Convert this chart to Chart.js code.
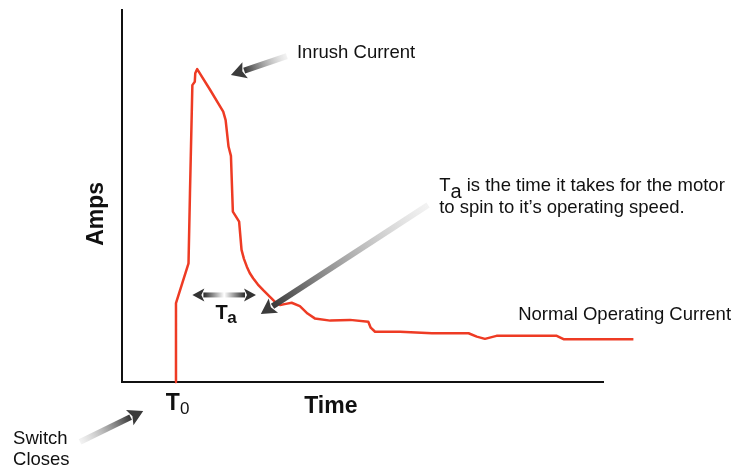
<!DOCTYPE html>
<html>
<head>
<meta charset="utf-8">
<script src="https://cdn.jsdelivr.net/npm/chart.js@4.4.0/dist/chart.umd.min.js"></script>
<style>
  html, body { margin: 0; padding: 0; background: #fff; }
  #wrap { width: 749px; height: 467px; position: relative; }
</style>
</head>
<body>
<div id="wrap"><canvas id="motor"></canvas></div>
<script>
// time (arbitrary units, axis runs 0..100) and current (0..100)
const timeVals = [11.0, 11.2, 13.8, 14.1, 14.6, 15.1, 15.2, 15.6, 18.3, 21.0, 21.5, 22.1, 22.6, 23.0,
  24.3, 24.8, 25.3, 25.9, 26.5, 27.2, 28.2, 29.3, 30.7, 31.8, 32.8, 34.0, 35.2, 36.9, 38.5, 40.0, 43.2,
  47.3, 51.1, 51.6, 52.5, 57.7, 64.3, 71.9, 73.6, 75.3, 77.7, 90.2, 91.6, 106.1];
const ampsVals = [0, 21.2, 31.9, 50.7, 79.8, 80.7, 83.0, 84.1, 78.5, 72.7, 70.4, 63.3, 60.8, 45.8,
  43.1, 35.5, 33.1, 31.0, 29.3, 27.9, 26.2, 24.7, 22.9, 21.5, 20.7, 21.0, 21.3, 20.4, 18.4, 17.1, 16.5,
  16.7, 16.2, 14.6, 13.5, 13.5, 13.1, 13.1, 12.2, 11.6, 12.4, 12.4, 11.5, 11.5];

const points = timeVals.map((t, i) => ({ x: t, y: ampsVals[i] }));

function drawArrow(ctx, x1, y1, x2, y2, o) {
  const ang = Math.atan2(y2 - y1, x2 - x1);
  const bx = x2 - Math.cos(ang) * o.head;
  const by = y2 - Math.sin(ang) * o.head;
  const g = ctx.createLinearGradient(x1, y1, bx, by);
  g.addColorStop(0, o.from);
  g.addColorStop(1, o.to);
  ctx.save();
  ctx.strokeStyle = g;
  ctx.lineWidth = o.width;
  ctx.lineCap = 'butt';
  ctx.beginPath();
  ctx.moveTo(x1, y1);
  ctx.lineTo(bx + Math.cos(ang), by + Math.sin(ang));
  ctx.stroke();
  ctx.fillStyle = o.to;
  ctx.beginPath();
  ctx.moveTo(x2, y2);
  ctx.lineTo(bx + Math.cos(ang + Math.PI / 2) * o.headW / 2, by + Math.sin(ang + Math.PI / 2) * o.headW / 2);
  ctx.lineTo(bx + Math.cos(ang) * 3, by + Math.sin(ang) * 3);
  ctx.lineTo(bx + Math.cos(ang - Math.PI / 2) * o.headW / 2, by + Math.sin(ang - Math.PI / 2) * o.headW / 2);
  ctx.closePath();
  ctx.fill();
  ctx.restore();
}

const notesPlugin = {
  id: 'notes',
  beforeDatasetsDraw(chart) {
    const { ctx, chartArea: a } = chart;
    ctx.save();
    ctx.strokeStyle = '#111';
    ctx.lineWidth = 2;
    ctx.beginPath();
    ctx.moveTo(a.left, a.top - 1);
    ctx.lineTo(a.left, a.bottom);
    ctx.lineTo(a.right, a.bottom);
    ctx.stroke();
    ctx.restore();
  },
  afterDatasetsDraw(chart, args, opts) {
    const { ctx } = chart;
    const sx = chart.scales.x, sy = chart.scales.y;
    const px = v => sx.getPixelForValue(v);
    const py = v => sy.getPixelForValue(v);
    const font = "'Liberation Sans', Arial, sans-serif";

    // gray arrows
    const arrowStyle = { width: 6, head: 15, headW: 17, from: 'rgba(225,225,225,0.4)', to: '#3b3b3b' };
    opts.arrows.forEach(ar => {
      drawArrow(ctx, px(ar[0]), py(ar[1]), px(ar[2]), py(ar[3]), arrowStyle);
    });

    // double arrow for Ta
    const d = opts.span;
    const cx = (px(d[0]) + px(d[1])) / 2, cy = py(d[2]);
    const spanStyle = { width: 5, head: 12, headW: 13, from: 'rgba(255,255,255,1)', to: '#333' };
    drawArrow(ctx, cx, cy, px(d[0]), cy, spanStyle);
    drawArrow(ctx, cx, cy, px(d[1]), cy, spanStyle);

    ctx.save();
    ctx.fillStyle = '#111';
    ctx.textBaseline = 'alphabetic';
    ctx.textAlign = 'left';

    // plain labels
    ctx.font = '18.5px ' + font;
    opts.labels.forEach(l => ctx.fillText(l.text, px(l.x), py(l.y)));

    // Ta note, first line with subscript
    const n = opts.taNote;
    let x0 = px(n.x), y0 = py(n.y);
    ctx.fillText('T', x0, y0);
    let w = ctx.measureText('T').width;
    ctx.font = '20px ' + font;
    ctx.fillText('a', x0 + w, y0 + 7);
    w += ctx.measureText('a').width;
    ctx.font = '18.5px ' + font;
    ctx.fillText(' is the time it takes for the motor', x0 + w, y0);
    ctx.fillText('to spin to it\u2019s operating speed.', x0, py(n.y2));

    // T0
    const t0 = opts.t0;
    x0 = px(t0.x); y0 = py(t0.y);
    ctx.font = 'bold 23px ' + font;
    ctx.fillText('T', x0, y0);
    w = ctx.measureText('T').width;
    ctx.font = '17px ' + font;
    ctx.fillText('0', x0 + w, y0 + 4);

    // Ta label
    const ta = opts.ta;
    x0 = px(ta.x); y0 = py(ta.y);
    ctx.font = 'bold 20px ' + font;
    ctx.fillText('T', x0, y0);
    w = ctx.measureText('T').width;
    ctx.font = 'bold 17px ' + font;
    ctx.fillText('a', x0 + w - 0.5, y0 + 4);

    // axis titles
    ctx.font = 'bold 23px ' + font;
    ctx.fillText('Time', px(opts.timeTitle.x), py(opts.timeTitle.y));
    ctx.translate(px(opts.ampsTitle.x), py(opts.ampsTitle.y));
    ctx.rotate(-Math.PI / 2);
    ctx.textAlign = 'center';
    ctx.textBaseline = 'middle';
    ctx.fillText('Amps', 0, 0);
    ctx.restore();
  }
};

new Chart(document.getElementById('motor'), {
  type: 'line',
  data: {
    datasets: [{
      label: 'Current',
      data: points,
      borderColor: '#ee3b24',
      borderWidth: 2.5,
      borderJoinStyle: 'round',
      pointRadius: 0,
      fill: false,
      tension: 0,
      clip: false
    }]
  },
  options: {
    responsive: true,
    maintainAspectRatio: false,
    animation: false,
    layout: { padding: { left: 122, right: 145, top: 10, bottom: 85 } },
    scales: {
      x: { type: 'linear', min: 0, max: 100, display: false },
      y: { type: 'linear', min: 0, max: 100, display: false }
    },
    plugins: {
      legend: { display: false },
      tooltip: { enabled: false },
      notes: {
        arrows: [
          [34.2, 87.6, 22.6, 82.5],
          [63.5, 47.6, 28.8, 18.3],
          [-8.7, -16.1, 4.4, -7.8]
        ],
        span: [14.6, 27.8, 23.4],
        labels: [
          { text: 'Inrush Current', x: 36.3, y: 87.1 },
          { text: 'Normal Operating Current', x: 82.2, y: 16.7 },
          { text: 'Switch', x: -22.6, y: -16.7 },
          { text: 'Closes', x: -22.6, y: -22.3 }
        ],
        taNote: { x: 65.8, y: 51.3, y2: 45.4 },
        t0: { x: 9.1, y: -7.5 },
        ta: { x: 19.4, y: 16.9 },
        timeTitle: { x: 37.8, y: -8.2 },
        ampsTitle: { x: -5.2, y: 45.2 }
      }
    }
  },
  plugins: [notesPlugin]
});
</script>
</body>
</html>
